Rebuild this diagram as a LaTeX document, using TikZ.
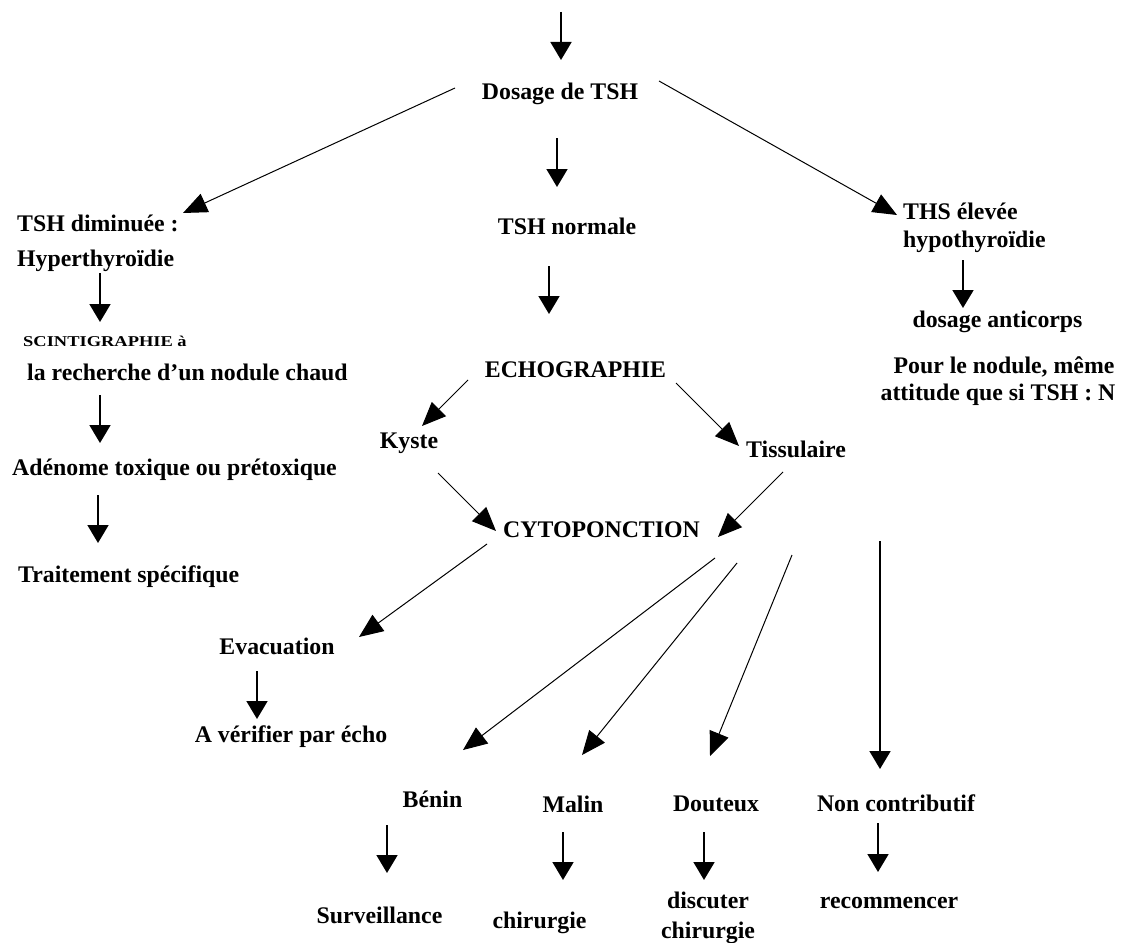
\documentclass[tikz,border=0pt]{standalone}
\usepackage{fontspec}
\setmainfont{Liberation Serif}
\newfontfamily\scfont[FakeStretch=1.23]{Liberation Serif}
\usetikzlibrary{arrows.meta}
\tikzset{
  lbl/.style={inner sep=0pt, anchor=base, font=\fontsize{23.8}{28}\selectfont\bfseries},
  lblw/.style={lbl, anchor=base west},
  arr/.style={-{Triangle[length=24pt,width=20pt]}, line width=1pt},
  varr/.style={-{Triangle[length=18pt,width=21pt]}, line width=1.8pt},
}
\begin{document}
\begin{tikzpicture}[x=1pt,y=-1pt]
\useasboundingbox (0,0) rectangle (1131,942);
% nodes
\node[lbl]  (dosage)   at (560,99)  {Dosage de TSH};
\node[lblw] (tshdim)   at (17,231)  {TSH diminuée :};
\node[lblw] (hyper)    at (17,266)  {Hyperthyroïdie};
\node[lblw, font=\fontsize{15}{18}\selectfont\scfont\bfseries] (scint) at (23,346) {SCINTIGRAPHIE à};
\node[lblw] (rech)     at (27,380)  {la recherche d’un nodule chaud};
\node[lblw] (adenome)  at (12,475)  {Adénome toxique ou prétoxique};
\node[lblw] (trait)    at (18,582)  {Traitement spécifique};
\node[lbl]  (tshnorm)  at (567,234) {TSH normale};
\node[lbl]  (echo)     at (575.5,377) {ECHOGRAPHIE};
\node[lbl]  (kyste)    at (409,448) {Kyste};
\node[lblw] (tissu)    at (746,457) {Tissulaire};
\node[lbl]  (cyto)     at (601.5,537) {CYTOPONCTION};
\node[lbl]  (evac)     at (277,654) {Evacuation};
\node[lbl]  (verif)    at (291,742) {A vérifier par écho};
\node[lblw] (ths)      at (903,219) {THS élevée};
\node[lblw] (hypo)     at (903,247) {hypothyroïdie};
\node[lbl]  (anticorps) at (997.5,327) {dosage anticorps};
\node[lbl]  (pour)     at (1004,373) {Pour le nodule, même};
\node[lbl]  (attitude) at (998,400) {attitude que si TSH : N};
\node[lbl]  (benin)    at (432.5,807) {Bénin};
\node[lbl]  (malin)    at (573,812) {Malin};
\node[lbl]  (douteux)  at (716,811) {Douteux};
\node[lbl]  (noncontrib) at (896,811) {Non contributif};
\node[lbl]  (surv)     at (379.5,923) {Surveillance};
\node[lbl]  (chir)     at (539.5,928) {chirurgie};
\node[lbl]  (disc1)    at (708,908) {discuter};
\node[lbl]  (disc2)    at (708,938) {chirurgie};
\node[lbl]  (recomm)   at (889,908) {recommencer};
% connector end points
\coordinate (top0) at (561,12);  \coordinate (top1) at (561,60);
\coordinate (dl0) at (455,88);   \coordinate (dl1) at (183,213);
\coordinate (dr0) at (659,81);   \coordinate (dr1) at (897,215);
\coordinate (dn0) at (557,138);  \coordinate (dn1) at (557,187);
\coordinate (h10) at (100,273);  \coordinate (h11) at (100,322);
\coordinate (h20) at (100,395);  \coordinate (h21) at (100,443);
\coordinate (h30) at (98,495);   \coordinate (h31) at (98,543);
\coordinate (n10) at (549,266);  \coordinate (n11) at (549,314);
\coordinate (ek0) at (468,380);  \coordinate (ek1) at (422,426);
\coordinate (et0) at (676,383);  \coordinate (et1) at (739,446);
\coordinate (kc0) at (438,473);  \coordinate (kc1) at (496,531);
\coordinate (tc0) at (783,472);  \coordinate (tc1) at (718,537);
\coordinate (ce0) at (487,544);  \coordinate (ce1) at (359,637);
\coordinate (ev0) at (257,671);  \coordinate (ev1) at (257,719);
\coordinate (cb0) at (715,558);  \coordinate (cb1) at (463,750);
\coordinate (cm0) at (737,563);  \coordinate (cm1) at (582,755);
\coordinate (cd0) at (792,555);  \coordinate (cd1) at (710,756);
\coordinate (cn0) at (880,541);  \coordinate (cn1) at (880,769);
\coordinate (bs0) at (387,825);  \coordinate (bs1) at (387,873);
\coordinate (mc0) at (563,832);  \coordinate (mc1) at (563,880);
\coordinate (dd0) at (704,832);  \coordinate (dd1) at (704,880);
\coordinate (nr0) at (878,823);  \coordinate (nr1) at (878,872);
\coordinate (hy0) at (963,260);  \coordinate (hy1) at (963,308);
% connectors
\draw[varr] (top0) -- (top1);
\draw[arr]  (dl0) -- (dl1);
\draw[arr]  (dr0) -- (dr1);
\draw[varr] (dn0) -- (dn1);
\draw[varr] (h10) -- (h11);
\draw[varr] (h20) -- (h21);
\draw[varr] (h30) -- (h31);
\draw[varr] (n10) -- (n11);
\draw[arr]  (ek0) -- (ek1);
\draw[arr]  (et0) -- (et1);
\draw[arr]  (kc0) -- (kc1);
\draw[arr]  (tc0) -- (tc1);
\draw[arr]  (ce0) -- (ce1);
\draw[varr] (ev0) -- (ev1);
\draw[arr]  (cb0) -- (cb1);
\draw[arr]  (cm0) -- (cm1);
\draw[arr]  (cd0) -- (cd1);
\draw[varr] (cn0) -- (cn1);
\draw[varr] (bs0) -- (bs1);
\draw[varr] (mc0) -- (mc1);
\draw[varr] (dd0) -- (dd1);
\draw[varr] (nr0) -- (nr1);
\draw[varr] (hy0) -- (hy1);
\end{tikzpicture}
\end{document}
